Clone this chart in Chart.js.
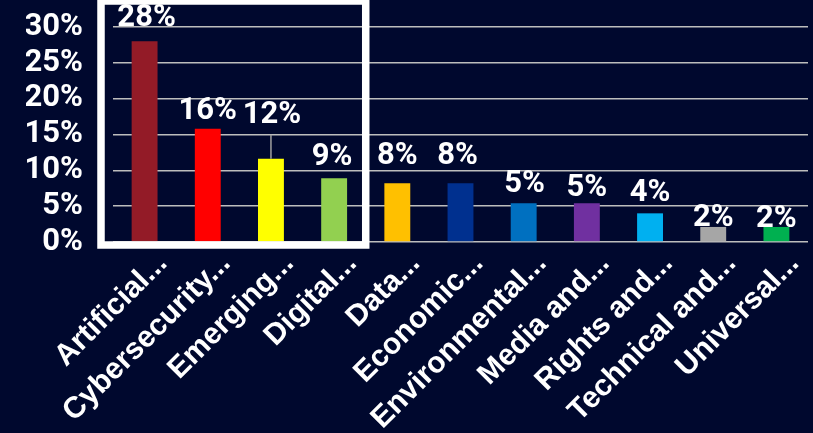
<!DOCTYPE html>
<html>
<head>
<meta charset="utf-8">
<script src="https://cdn.jsdelivr.net/npm/chart.js@4.4.1/dist/chart.umd.min.js"></script>
<style>
html, body { margin: 0; padding: 0; background: #00082e; }
#wrap { width: 813px; height: 433px; position: relative; }
</style>
</head>
<body>
<div id="wrap"><canvas id="myChart"></canvas></div>
<script>
const categories = ['Artificial...', 'Cybersecurity...', 'Emerging...', 'Digital...', 'Data...', 'Economic...',
    'Environmental...', 'Media and...', 'Rights and...', 'Technical and...', 'Universal...'];
const shares = [28.0, 15.8, 11.6, 8.9, 8.2, 8.2, 5.4, 5.4, 4.0, 2.1, 2.1];
const barColors = ['#931b27', '#ff0000', '#ffff00', '#92d050', '#ffc000', '#00308f',
    '#0070c0', '#7030a0', '#00b0f0', '#a6a6a6', '#00b050'];
const yMax = 30;
const yStep = 5;

// labels above the bars, some nudged like in the source picture
const barLabels = {
    id: 'barLabels',
    afterDatasetsDraw(chart, args, opts) {
        const ctx = chart.ctx;
        const meta = chart.getDatasetMeta(0);
        ctx.save();
        ctx.font = 'bold 31px Roboto';
        ctx.fillStyle = '#fff';
        ctx.textAlign = 'center';
        ctx.textBaseline = 'alphabetic';
        meta.data.forEach((bar, i) => {
            const y = bar.y - opts.lift[i];
            if (opts.lift[i] > 25) {
                ctx.strokeStyle = '#a0a0a0';
                ctx.lineWidth = 1.5;
                ctx.beginPath();
                ctx.moveTo(bar.x, bar.y);
                ctx.lineTo(bar.x, y + 12);
                ctx.stroke();
            }
            ctx.fillText(Math.round(shares[i]) + '%', bar.x + opts.shift[i], y);
        });
        ctx.restore();
    }
};

// white box round the first four categories
const highlightBox = {
    id: 'highlightBox',
    afterDraw(chart) {
        const ctx = chart.ctx;
        const x = chart.scales.x;
        const area = chart.chartArea;
        const left = area.left - 12;
        const right = (x.getPixelForValue(3) + x.getPixelForValue(4)) / 2;
        const top = 1;
        const bottom = area.bottom + 3;
        ctx.save();
        ctx.strokeStyle = '#fff';
        ctx.lineWidth = 7.5;
        ctx.strokeRect(left, top, right - left, bottom - top);
        ctx.restore();
    }
};

const ctx = document.getElementById('myChart').getContext('2d');

new Chart(ctx, {
    type: 'bar',
    data: {
        labels: categories,
        datasets: [{
            data: shares,
            backgroundColor: barColors,
            borderWidth: 0,
            barPercentage: 0.41,
            categoryPercentage: 1
        }]
    },
    options: {
        responsive: true,
        maintainAspectRatio: false,
        animation: false,
        layout: {
            padding: { top: 27, right: 5, left: 26, bottom: 0 }
        },
        plugins: {
            legend: { display: false },
            tooltip: { enabled: false },
            barLabels: {
                lift: [15, 10, 36, 13, 19, 19, 11, 7, 12, 1, 0],
                shift: [2, 0, 1, -2, 0, -3, 1, 0, 0, 0, 0]
            }
        },
        scales: {
            x: {
                grid: { display: false },
                border: { display: false },
                afterFit: s => { s.paddingLeft = 0; s.paddingRight = 0; s.height = 191; },
                ticks: {
                    color: '#fff',
                    font: { family: 'Liberation Sans', weight: 'bold', size: 30 },
                    maxRotation: 45,
                    minRotation: 45,
                    autoSkip: false,
                    labelOffset: 18,
                    padding: -4
                }
            },
            y: {
                min: 0,
                max: yMax,
                grid: { color: '#bdbdbd', lineWidth: 1.5, drawTicks: false },
                border: { display: false },
                afterFit: s => { s.paddingTop = 0; s.paddingBottom = 0; s.width = 87; },
                ticks: {
                    stepSize: yStep,
                    autoSkip: false,
                    color: '#fff',
                    padding: 30,
                    font: { family: 'Roboto', weight: 'bold', size: 31 },
                    callback: v => v + '%'
                }
            }
        }
    },
    plugins: [barLabels, highlightBox]
});
</script>
</body>
</html>
